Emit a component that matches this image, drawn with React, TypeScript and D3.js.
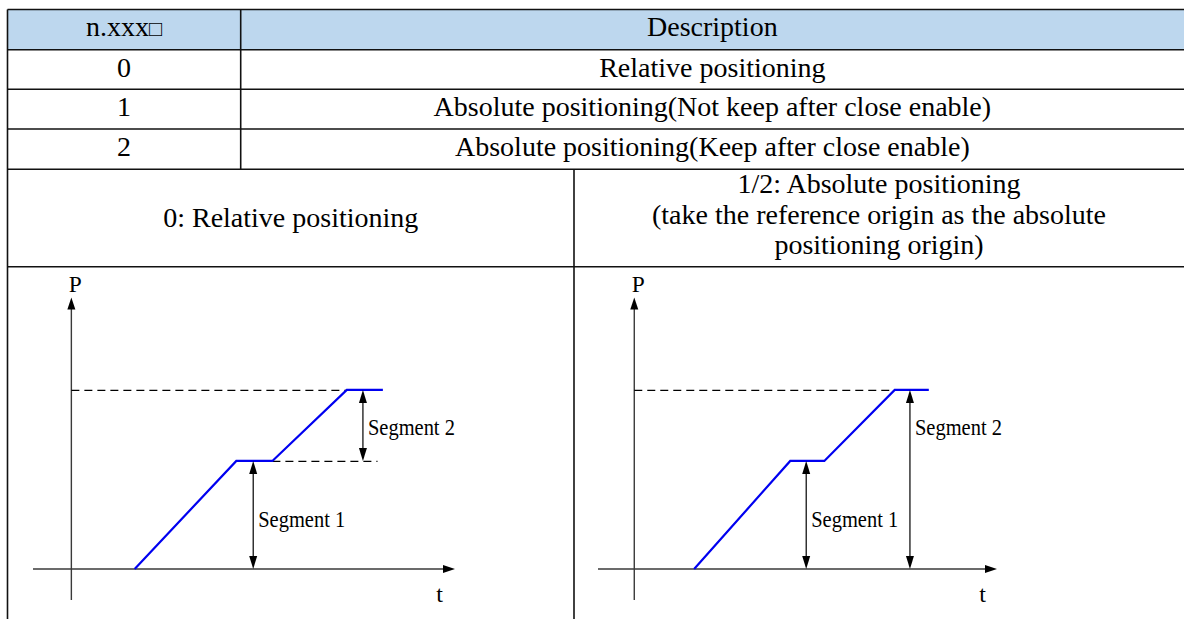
import React from 'react';
import * as d3 from 'd3';

// table content
const headerLabels = ['n.xxx\u25A1', 'Description'];
const modeCodes = ['0', '1', '2'];
const modeDescriptions = [
  'Relative positioning',
  'Absolute positioning(Not keep after close enable)',
  'Absolute positioning(Keep after close enable)',
];
const leftCaption = ['0: Relative positioning'];
const rightCaption = [
  '1/2: Absolute positioning',
  '(take the reference origin as the absolute',
  'positioning origin)',
];

// position profile (t, P) shared by both diagrams
const profileT = [1.65, 4.3, 5.24, 7.18, 8.12];
const profileP = [0, 4, 4, 6.63, 6.63];

// segment arrows: [t, pFrom, pTo]
const relSegments = [
  [4.74, 0, 4],
  [7.6, 4, 6.63],
];
const absSegments = [
  [4.74, 0, 4],
  [7.6, 0, 6.63],
];
const segmentNames = ['Segment 1', 'Segment 2'];
const segmentLabelP = [1.55, 4.95];

// dashed guides: [tFrom, tTo, P]
const relGuides = [
  [0, 7.18, 6.63],
  [5.24, 7.98, 4],
];
const absGuides = [[0, 7.18, 6.63]];

const tDomain: [number, number] = [-1, 10];
const pDomain: [number, number] = [-1.15, 10.05];

const FONT = '"Liberation Serif", "Times New Roman", serif';
const LINE = '#111';

type Seg = number[];

function Diagram({ x0, x1, segments, guides }: { x0: number; x1: number; segments: Seg[]; guides: Seg[] }) {
  const x = d3.scaleLinear().domain(tDomain).range([x0, x1]);
  const y = d3.scaleLinear().domain(pDomain).range([600, 297.6]);
  const pts = profileT.map((t, i) => [x(t), y(profileP[i])] as [number, number]);
  const line = d3.line();
  const head = (tx: number, ty: number, dir: 'up' | 'down' | 'right', len = 12, w = 4) => {
    if (dir === 'up') return `M${tx},${ty}L${tx - w},${ty + len}L${tx + w},${ty + len}Z`;
    if (dir === 'down') return `M${tx},${ty}L${tx - w},${ty - len}L${tx + w},${ty - len}Z`;
    return `M${tx},${ty}L${tx - len},${ty - w}L${tx - len},${ty + w}Z`;
  };
  const ax = x(0);
  const ay = y(0);
  return (
    <g fontFamily={FONT}>
      {/* axes */}
      <line x1={ax} x2={ax} y1={y(pDomain[0])} y2={y(pDomain[1]) + 10} stroke="#3a3a3a" strokeWidth={1.4} />
      <path d={head(ax, y(pDomain[1]), 'up')} fill="#000" />
      <line x1={x(tDomain[0])} x2={x(tDomain[1]) - 10} y1={ay} y2={ay} stroke="#3a3a3a" strokeWidth={1.4} />
      <path d={head(x(tDomain[1]), ay, 'right')} fill="#000" />
      <text x={ax + 4} y={292} fontSize={24} textAnchor="middle" textLength={13} lengthAdjust="spacingAndGlyphs">P</text>
      <text x={x(9.6)} y={602} fontSize={24} textAnchor="middle">t</text>
      {/* dashed guides */}
      {guides.map((g, i) => (
        <line key={i} x1={x(g[0])} x2={x(g[1])} y1={y(g[2]) + 0.5} y2={y(g[2]) + 0.5} stroke="#000" strokeWidth={1.2} strokeDasharray="8,5" />
      ))}
      {/* profile */}
      <path d={line(pts) || ''} fill="none" stroke="#0000f0" strokeWidth={2.2} />
      {/* segment arrows */}
      {segments.map((s, i) => {
        const sx = x(s[0]);
        const ya = y(s[1]);
        const yb = y(s[2]);
        return (
          <g key={i}>
            <line x1={sx} x2={sx} y1={yb + 12} y2={ya - 12} stroke="#000" strokeWidth={1.2} />
            <path d={head(sx, yb, 'up', 13, 4)} fill="#000" />
            <path d={head(sx, ya, 'down', 13, 4)} fill="#000" />
            <text x={sx + 5} y={y(segmentLabelP[i])} fontSize={24} textLength={87} lengthAdjust="spacingAndGlyphs">
              {segmentNames[i]}
            </text>
          </g>
        );
      })}
    </g>
  );
}

export default function App() {
  const L = 7.5;
  const R = 1184;
  const colA = 240.7;
  const colB = 574;
  const rows = [9.5, 49.7, 89.3, 129, 169.3, 266.7];
  const fs = 28;
  return (
    <svg width={1184} height={619} style={{ position: 'absolute', left: 0, top: 0, background: '#fff' }}>
      <rect x={L} y={rows[0]} width={R - L} height={rows[1] - rows[0]} fill="#bdd7ee" />
      <g fontFamily={FONT} fontSize={fs} fill="#000" textAnchor="middle">
        <text x={(L + colA) / 2} y={36}>
          n.xxx<tspan fontSize={22}>{headerLabels[0].slice(-1)}</tspan>
        </text>
        <text x={(colA + R) / 2} y={36}>{headerLabels[1]}</text>
        {modeCodes.map((c, i) => (
          <g key={c}>
            <text x={(L + colA) / 2} y={rows[i + 1] + 27}>{c}</text>
            <text x={(colA + R) / 2} y={rows[i + 1] + 27}>{modeDescriptions[i]}</text>
          </g>
        ))}
        <text x={(L + colB) / 2} y={227}>{leftCaption[0]}</text>
        {rightCaption.map((t, i) => (
          <text key={i} x={(colB + R) / 2} y={[192.5, 224, 253.5][i]}>{t}</text>
        ))}
      </g>
      <g stroke={LINE} strokeWidth={1.6}>
        {rows.map((r, i) => (
          <line key={i} x1={L} x2={R} y1={r} y2={r} />
        ))}
        <line x1={L} x2={L} y1={rows[0]} y2={619} />
        <line x1={colA} x2={colA} y1={rows[0]} y2={rows[4]} />
        <line x1={colB} x2={colB} y1={rows[4]} y2={619} />
      </g>
      <Diagram x0={33} x1={455} segments={relSegments} guides={relGuides} />
      <Diagram x0={598} x1={997} segments={absSegments} guides={absGuides} />
    </svg>
  );
}
